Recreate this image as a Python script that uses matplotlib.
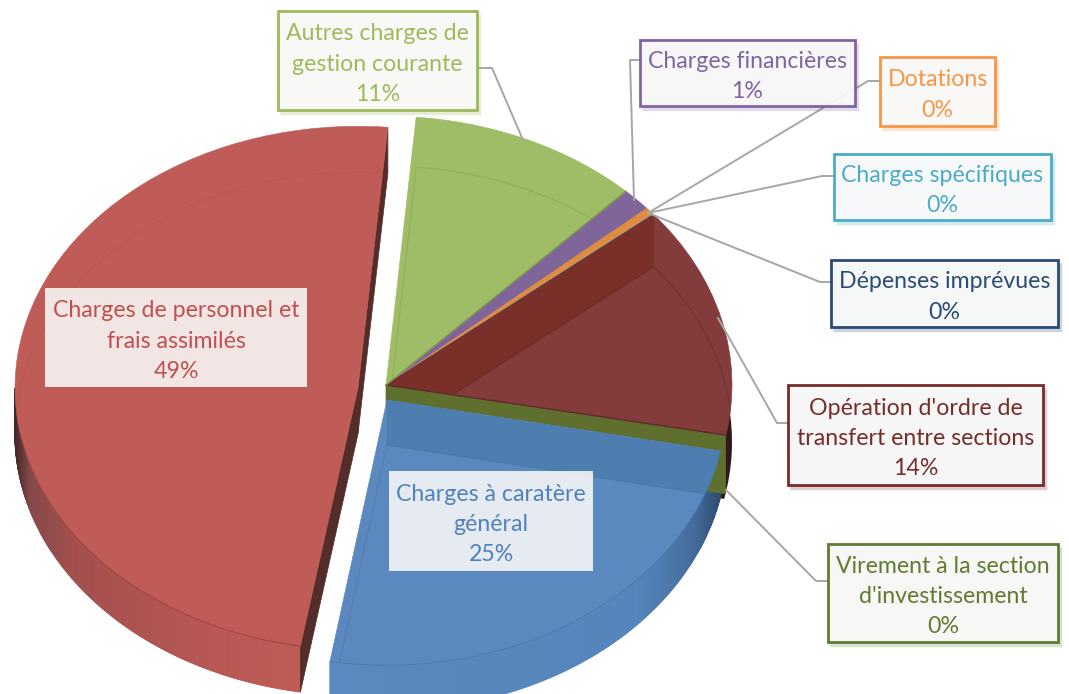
import numpy as np
import matplotlib
matplotlib.use('Agg')
import matplotlib.pyplot as plt
from matplotlib.patches import Wedge, Polygon, Rectangle
from matplotlib.transforms import Affine2D
from matplotlib.colors import to_rgb

plt.rcParams['font.family'] = ['Lato', 'DejaVu Sans']

# data, clockwise from the top of the pie
categories = ["Autres charges de\ngestion courante", "Charges financières", "Dotations",
              "Charges spécifiques", "Dépenses imprévues",
              "Opération d'ordre de\ntransfert entre sections",
              "Virement à la section\nd'investissement",
              "Charges à caratère\ngénéral", "Charges de personnel et\nfrais assimilés"]
values = [10.8, 1.4, 0.45, 0.02, 0.02, 13.9, 0.1, 24.6, 48.7]

face_colors = ['#9FBD66', '#80659B', '#E08C3E', '#4BACC6', '#1F497D', '#843B3B', '#5F702E', '#5B88BF', '#BF5C57']
text_colors = ['#9BBB59', '#8064A2', '#F79646', '#4BACC6', '#2A4B74', '#772C2A', '#5F7A32', '#4F81BD', '#C0504D']

# label boxes (left, top, right, bottom) in pixels
boxes = [(278, 11, 477, 110), (640, 40, 855, 106), (880, 57, 995, 126), (834, 154, 1051, 220),
         (831, 260, 1058, 327), (788, 385, 1043, 485), (828, 544, 1058, 642),
         (389, 471, 593, 571), (45, 288, 307, 387)]
leaders = [[(477, 68), (492, 68), (523, 140)],
           [(640, 60), (630, 60), (634, 200)],
           [(880, 81), (868, 81), (648, 213)],
           [(834, 176), (822, 176), (648, 213)],
           [(831, 282), (820, 282), (648, 213)],
           [(788, 423), (777, 423), (718, 318)],
           [(828, 581), (816, 581), (726, 490)]]

start_angle = 85
pie_center = (386, 385)
pie_radius = 346
pie_k = 0.777
# exploded slices have their own centre, radius and squash
slice_geom = {7: ((387, 400), 340, 0.78), 8: ((358, 388), 343, 0.763)}
depth = {5: 52, 6: 52, 7: 45, 8: 46}

fig = plt.figure(figsize=(10.69, 6.94), dpi=100)
ax = fig.add_axes([0, 0, 1, 1])

fracs = np.array(values) / sum(values)
ends = start_angle - np.cumsum(fracs) * 360
starts = np.r_[start_angle, ends[:-1]]


def geom(i):
    return slice_geom.get(i, (pie_center, pie_radius, pie_k))


def trans(i, dy=0):
    (cx, cy), r, k = geom(i)
    return Affine2D().scale(1, -k).translate(cx, cy + dy) + ax.transData


def make_wedge(i, dy=0, **kw):
    return Wedge((0, 0), geom(i)[1], ends[i], starts[i], transform=trans(i, dy), **kw)


def pt(i, ang, dy=0):
    (cx, cy), r, k = geom(i)
    a = np.deg2rad(ang)
    return cx + r * np.cos(a), cy - r * k * np.sin(a) + dy


def outer_wall(i, d, stops, first):
    # side of the disc, coloured by x position
    angs = np.linspace(first, starts[i], 200)
    xs_stop = [s[0] for s in stops]
    rgb_stop = np.array([to_rgb(s[1]) for s in stops])
    for a0, a1 in zip(angs[:-1], angs[1:]):
        p0, p1 = pt(i, a0), pt(i, a1)
        xm = (p0[0] + p1[0]) / 2
        col = [np.interp(xm, xs_stop, rgb_stop[:, c]) for c in range(3)]
        ax.add_patch(Polygon([p0, p1, (p1[0], p1[1] + d), (p0[0], p0[1] + d)],
                             fc=col, ec=col, lw=0.8, zorder=2 + i * 0.1))


def flat_wall(i, ang, d, color, z):
    (cx, cy), r, k = geom(i)
    o = pt(i, ang)
    return Polygon([(cx, cy), o, (o[0], o[1] + d), (cx, cy + d)], fc=color, ec=color, lw=0.5, zorder=z)


# back slices first: dark rim at the right of the dark red slice
ax.add_patch(Wedge((0, 0), pie_radius, ends[5] - 1.5, 8, transform=trans(5, 57),
                   fc='#2E1A1C', ec='none', zorder=1.5))
faces = {}
for i in range(7):
    w = make_wedge(i, fc=face_colors[i], ec=face_colors[i], lw=0.4, zorder=3)
    ax.add_patch(w)
    faces[i] = w

# darker inner band seen through the dark red slice
band = flat_wall(5, starts[5], 52, '#7A2F29', 3.2)
ax.add_patch(band)
band.set_clip_path(faces[5])
ax.plot(*zip(pt(5, ends[5]), geom(5)[0]), color='#5E2A2A', lw=1, zorder=3.4)

# virement strip sits between dark red and blue
strip = flat_wall(6, ends[6], 57, '#5F702E', 3.3)
ax.add_patch(strip)

# red slice
outer_wall(8, depth[8], [(15, '#3F2626'), (30, '#84494A'), (70, '#A24F4D'), (180, '#B45653'), (305, '#BF5C57')], -180)
ax.add_patch(flat_wall(8, starts[8], depth[8], '#542D2B', 3.4))
ax.add_patch(flat_wall(8, ends[8], depth[8], '#542D2B', 3.4))
faces[8] = make_wedge(8, fc=face_colors[8], ec=face_colors[8], lw=0.4, zorder=3.6)
ax.add_patch(faces[8])

# blue slice
outer_wall(7, depth[7], [(330, '#5B88BF'), (640, '#5585BC'), (695, '#436C9C'), (725, '#2A4669')], ends[7])
faces[7] = make_wedge(7, fc=face_colors[7], ec=face_colors[7], lw=0.4, zorder=3.6)
ax.add_patch(faces[7])
band = flat_wall(7, starts[7], depth[7], '#4E7EAF', 3.7)
ax.add_patch(band)
band.set_clip_path(faces[7])

# faint lower rim seen through the translucent tops
for i, d, col, a in [(0, 50, '#6F8F3A', 0.25), (5, 52, '#5E2A2A', 0.45), (7, 45, '#3F6EA5', 0.3), (8, 46, '#9C4744', 0.15)]:
    rim = make_wedge(i, d, fc='none', ec=col, lw=1, alpha=a, zorder=3.9)
    ax.add_patch(rim)
    rim.set_clip_path(faces[i])
ax.plot(*zip(pt(0, ends[0]), geom(0)[0]), color='#7F9E4A', lw=1, zorder=3.9)
# arc of the red slice's top edge over its side
ang = np.linspace(-170, starts[8], 100)
ax.plot(*zip(*[pt(8, a) for a in ang]), color='#9C4744', lw=0.8, zorder=3.9)
# arc of the blue slice's top edge over its side
ang = np.linspace(ends[7], starts[7], 100)
ax.plot(*zip(*[pt(7, a) for a in ang]), color='#3F6EA5', lw=0.6, alpha=0.6, zorder=3.9)

# leader lines
for line in leaders:
    ax.plot(*zip(*line), color='#A6A6A6', lw=1.4, zorder=4, solid_joinstyle='round')

# label boxes
for i, (l, t, r, b) in enumerate(boxes):
    framed = i < 7
    if framed:
        for grow, al in [(4, 0.05), (2.5, 0.08), (1, 0.12)]:
            ax.add_patch(Rectangle((l + 3 - grow / 2, t + 4 - grow / 2), r - l + grow, b - t + grow,
                                   fc=text_colors[i], ec='none', alpha=al, zorder=5))
    ax.add_patch(Rectangle((l, t), r - l, b - t, fc='#FAFAFA', ec='none',
                           alpha=0.93 if framed else 0.88, zorder=6))
    if framed:
        ax.add_patch(Rectangle((l, t), r - l, b - t, fc='none', ec=text_colors[i], lw=2, zorder=6))
    ax.text((l + r) / 2, (t + b) / 2 + 3.5, f"{categories[i]}\n{round(values[i])}%", ha='center', va='center',
            color=text_colors[i], fontsize=16.7, linespacing=1.55, zorder=7)

ax.set_xlim(0, 1069)
ax.set_ylim(694, 0)
ax.axis('off')
fig.savefig('out.png', dpi=100)
